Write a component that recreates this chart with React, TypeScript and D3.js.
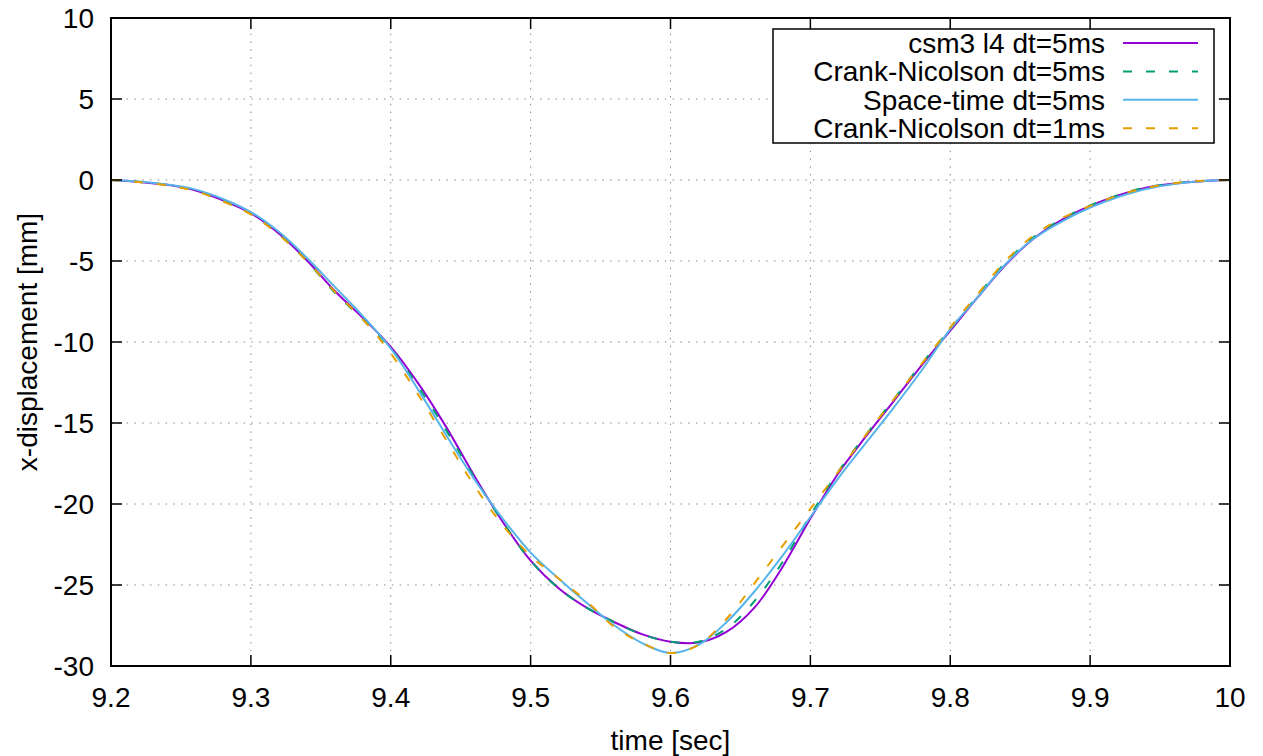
import React from "react";
import * as d3 from "d3";

// ---- data ----
const times = [
  9.2, 9.22, 9.24, 9.26, 9.28, 9.3, 9.32, 9.34, 9.36, 9.38,
  9.4, 9.42, 9.44, 9.46, 9.48, 9.5, 9.52, 9.54, 9.56, 9.58,
  9.6, 9.62, 9.64, 9.66, 9.68, 9.7, 9.72, 9.74, 9.76, 9.78,
  9.8, 9.82, 9.84, 9.86, 9.88, 9.9, 9.92, 9.94, 9.96, 9.98, 10.0,
];

const csm3L4 = [
  0, -0.12, -0.3, -0.63, -1.25, -2.05, -3.3, -4.95, -6.85, -8.5,
  -10.3, -12.6, -15.3, -18.3, -21.1, -23.5, -25.2, -26.4, -27.3, -28.05,
  -28.5, -28.55, -27.9, -26.4, -23.9, -20.9, -18.1, -15.8, -13.6, -11.4,
  -9.3, -7.2, -5.2, -3.6, -2.45, -1.6, -0.95, -0.47, -0.22, -0.07, 0,
];

const crankNicolson5 = [
  0, -0.12, -0.31, -0.65, -1.28, -2.1, -3.35, -5.0, -6.95, -8.6,
  -10.4, -12.8, -15.5, -18.4, -21.1, -23.5, -25.2, -26.4, -27.3, -28.05,
  -28.5, -28.5, -27.7, -26.0, -23.6, -20.7, -18.0, -15.7, -13.5, -11.3,
  -9.2, -7.1, -5.05, -3.5, -2.4, -1.57, -0.93, -0.46, -0.21, -0.06, 0,
];

const spaceTime5 = [
  0, -0.1, -0.28, -0.58, -1.17, -1.98, -3.2, -4.8, -6.6, -8.4,
  -10.4, -13.0, -15.8, -18.5, -20.9, -23.0, -24.6, -26.1, -27.5, -28.6,
  -29.2, -28.7, -27.3, -25.4, -23.2, -20.8, -18.4, -16.2, -14.0, -11.7,
  -9.2, -7.2, -5.15, -3.6, -2.55, -1.7, -1.05, -0.55, -0.24, -0.07, 0,
];

const crankNicolson1 = [
  0, -0.13, -0.33, -0.68, -1.32, -2.12, -3.38, -5.0, -6.9, -8.6,
  -10.7, -13.3, -16.1, -18.9, -21.3, -23.2, -24.6, -26.0, -27.6, -28.6,
  -29.2, -28.7, -27.1, -24.9, -22.6, -20.3, -18.0, -15.7, -13.5, -11.3,
  -9.1, -7.0, -4.95, -3.4, -2.35, -1.6, -0.95, -0.5, -0.2, -0.05, 0,
];

const seriesNames = [
  "csm3 l4 dt=5ms",
  "Crank-Nicolson dt=5ms",
  "Space-time dt=5ms",
  "Crank-Nicolson dt=1ms",
];
const seriesColors = ["#9400d3", "#009e73", "#56b4e9", "#e69f00"];
const seriesDashed = [false, true, false, true];

const xTicks = [9.2, 9.3, 9.4, 9.5, 9.6, 9.7, 9.8, 9.9, 10];
const xTickLabels = ["9.2", "9.3", "9.4", "9.5", "9.6", "9.7", "9.8", "9.9", "10"];
const yTicks = [10, 5, 0, -5, -10, -15, -20, -25, -30];

const xLabel = "time [sec]";
const yLabel = "x-displacement [mm]";

// ---- layout ----
const W = 1263;
const H = 756;
const L = 111;
const R = 1230;
const T = 18;
const B = 666;
const FONT = "'Liberation Sans', Arial, Helvetica, sans-serif";
const FS = 28;
const TICK = 11;

export default function App() {
  const x = d3.scaleLinear().domain([9.2, 10]).range([L, R]);
  const y = d3.scaleLinear().domain([-30, 10]).range([B, T]);
  const allSeries = [csm3L4, crankNicolson5, spaceTime5, crankNicolson1];

  const line = d3
    .line<number>()
    .x((_, i) => x(times[i]))
    .y((d) => y(d))
    .curve(d3.curveCatmullRom.alpha(0.5));

  const legendX0 = 773;
  const legendX1 = 1214;
  const legendY0 = 29;
  const legendY1 = 143;
  const rowY = (i: number) => 43 + i * 28.4;

  return (
    <svg
      width={W}
      height={H}
      style={{ position: "fixed", left: 0, top: 0, background: "#fff" }}
      fontFamily={FONT}
      fontSize={FS}
    >
      <rect x={0} y={0} width={W} height={H} fill="#fff" />
      {/* grid */}
      <g stroke="#8a8a8a" strokeWidth={1} strokeDasharray="1.5,6.3">
        {xTicks.slice(1, -1).map((t) => (
          <line key={"gx" + t} x1={x(t)} x2={x(t)} y1={T} y2={B} />
        ))}
        {yTicks.slice(1, -1).map((t) => (
          <line key={"gy" + t} x1={L} x2={R} y1={y(t)} y2={y(t)} />
        ))}
      </g>

      {/* curves */}
      <g fill="none">
        {allSeries.map((s, i) => (
          <path
            key={"s" + i}
            d={line(s) || ""}
            stroke={seriesColors[i]}
            strokeWidth={2}
            strokeDasharray={seriesDashed[i] ? "9,14" : undefined}
          />
        ))}
      </g>

      {/* ticks */}
      <g stroke="#000" strokeWidth={1.5}>
        {xTicks.map((t) => (
          <g key={"tx" + t}>
            <line x1={x(t)} x2={x(t)} y1={B} y2={B - TICK} />
            <line x1={x(t)} x2={x(t)} y1={T} y2={T + TICK} />
          </g>
        ))}
        {yTicks.map((t) => (
          <g key={"ty" + t}>
            <line x1={L} x2={L + TICK} y1={y(t)} y2={y(t)} />
            <line x1={R} x2={R - TICK} y1={y(t)} y2={y(t)} />
          </g>
        ))}
      </g>

      {/* frame */}
      <rect x={L} y={T} width={R - L} height={B - T} fill="none" stroke="#000" strokeWidth={2} />

      {/* tick labels */}
      <g fill="#000">
        {xTicks.map((t, i) => (
          <text key={"lx" + t} x={x(t)} y={B + 41} textAnchor="middle">
            {xTickLabels[i]}
          </text>
        ))}
        {yTicks.map((t) => (
          <text key={"ly" + t} x={94} y={y(t) + 10} textAnchor="end">
            {String(t)}
          </text>
        ))}
        <text x={(L + R) / 2} y={750} textAnchor="middle">
          {xLabel}
        </text>
        <text transform={`translate(37,${(T + B) / 2}) rotate(-90)`} textAnchor="middle">
          {yLabel}
        </text>
      </g>

      {/* legend */}
      <rect
        x={legendX0}
        y={legendY0}
        width={legendX1 - legendX0}
        height={legendY1 - legendY0}
        fill="#fff"
        stroke="#000"
        strokeWidth={1.5}
      />
      {seriesNames.map((name, i) => (
        <g key={"lg" + i}>
          <text x={1105} y={rowY(i) + 10} textAnchor="end" fill="#000">
            {name}
          </text>
          <line
            x1={1123}
            x2={1198}
            y1={rowY(i)}
            y2={rowY(i)}
            stroke={seriesColors[i]}
            strokeWidth={2}
            strokeDasharray={seriesDashed[i] ? "9,14" : undefined}
          />
        </g>
      ))}
    </svg>
  );
}
